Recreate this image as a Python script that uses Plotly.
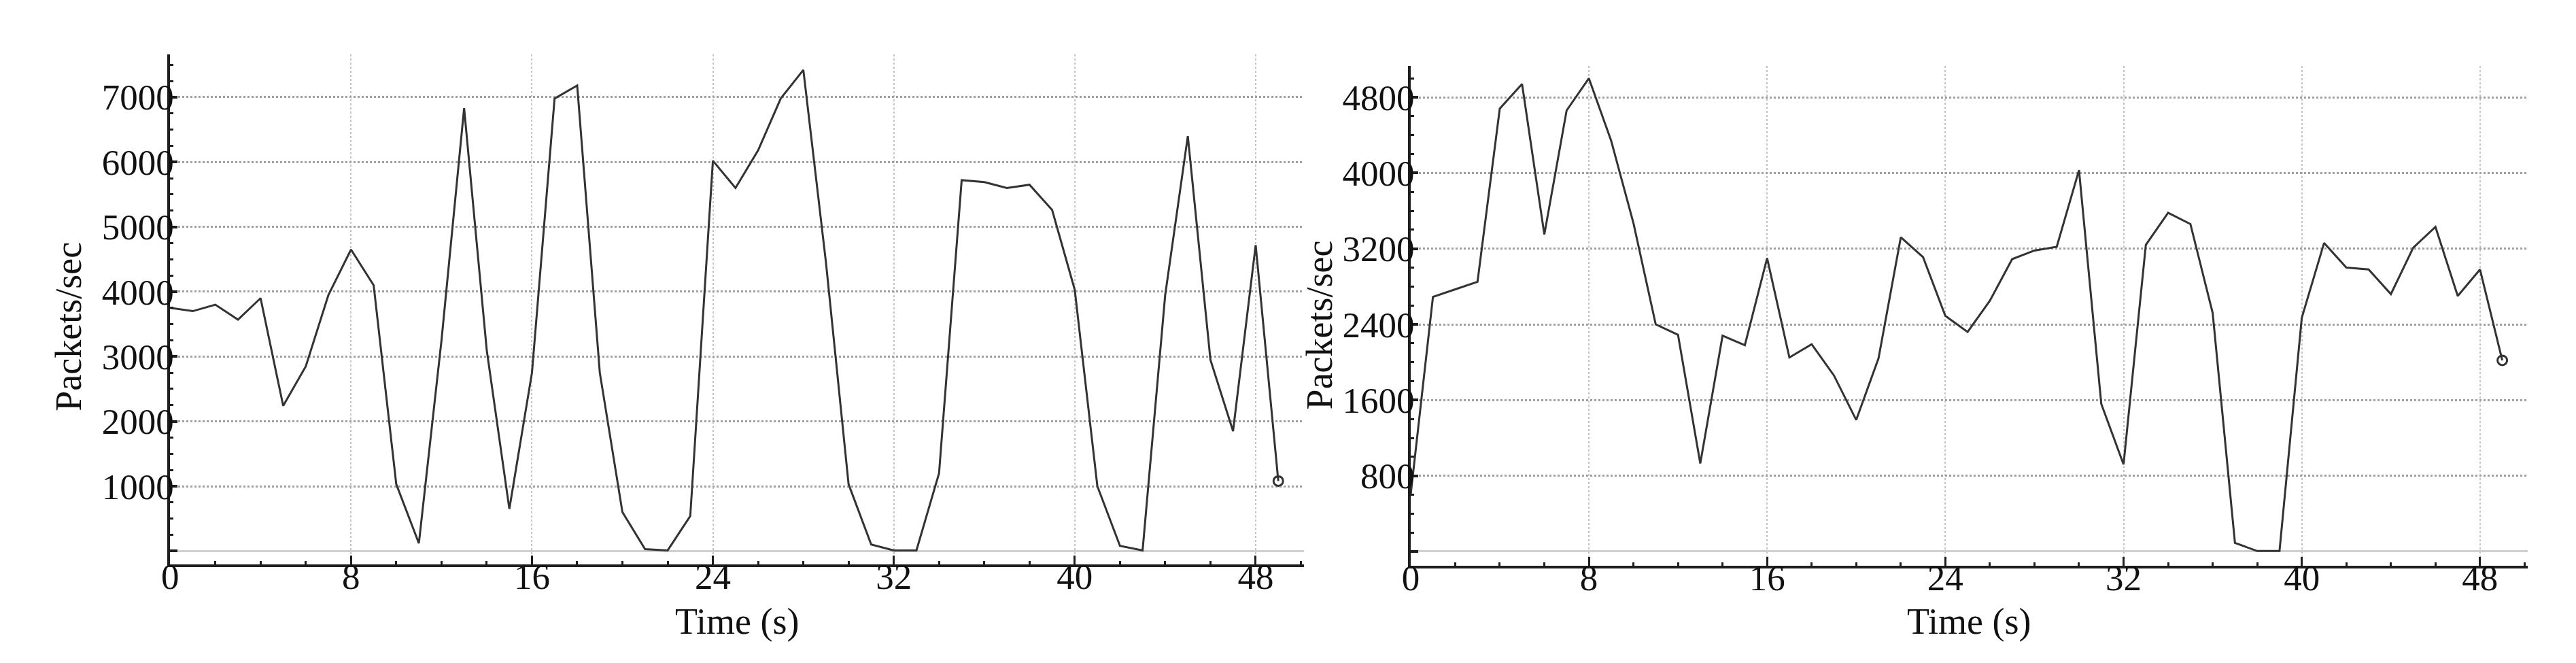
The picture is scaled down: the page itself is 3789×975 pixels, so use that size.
import plotly.graph_objects as go

# ---- data ----
time_s = list(range(50))

left_pps = [3750, 3700, 3800, 3570, 3900, 2240, 2850, 3950, 4650, 4100,
            1030, 120, 3250, 6830, 3100, 650, 2750, 6980, 7180, 2750,
            600, 30, 10, 540, 6020, 5600, 6180, 6980, 7420, 4450,
            1030, 100, 10, 10, 1200, 5720, 5690, 5600, 5650, 5260,
            4030, 1000, 80, 10, 3950, 6400, 2950, 1850, 4720, 1080]

right_pps = [600, 2690, 2770, 2850, 4680, 4940, 3350, 4660, 5000, 4340,
             3470, 2400, 2290, 930, 2280, 2180, 3100, 2050, 2190, 1860,
             1390, 2040, 3320, 3110, 2490, 2320, 2650, 3090, 3180, 3220,
             4030, 1560, 920, 3240, 3580, 3460, 2520, 90, 5, 5,
             2470, 3260, 3000, 2980, 2720, 3210, 3430, 2700, 2980, 2020]

x_ticks = [0, 8, 16, 24, 32, 40, 48]
left_yticks = [0, 1000, 2000, 3000, 4000, 5000, 6000, 7000]
left_ylabels = ["", "1000", "2000", "3000", "4000", "5000", "6000", "7000"]
right_yticks = [0, 800, 1600, 2400, 3200, 4000, 4800]
right_ylabels = ["", "800", "1600", "2400", "3200", "4000", "4800"]

x_title = "Time (s)"
y_title = "Packets/sec"

# ---- style ----
W, H = 3789, 975
FONT = "Liberation Serif, Times New Roman, serif"
AX = "#1e1e1e"
LINE = "#333333"
TICK_SIZE = 53
TITLE_SIZE = 54

fig = go.Figure()

for xa, ya, vals in (("x", "y", left_pps), ("x2", "y2", right_pps)):
    fig.add_trace(go.Scatter(x=time_s, y=vals, mode="lines",
                             line=dict(color=LINE, width=3),
                             xaxis=xa, yaxis=ya, showlegend=False, hoverinfo="skip"))
    fig.add_trace(go.Scatter(x=time_s[-1:], y=vals[-1:], mode="markers",
                             marker=dict(symbol="circle-open", size=14, color=LINE,
                                         line=dict(width=3, color=LINE)),
                             xaxis=xa, yaxis=ya, showlegend=False, hoverinfo="skip"))


def xaxis_cfg(dom):
    return dict(domain=dom, range=[0, 50.15], tickmode="array", tickvals=x_ticks,
                ticks="inside", ticklen=13, tickwidth=3, tickcolor=AX,
                showline=True, linecolor=AX, linewidth=3.5,
                showgrid=True, gridcolor="#c4c4c4", griddash="dot", gridwidth=1.5,
                zeroline=False,
                minor=dict(tickmode="linear", tick0=0, dtick=2, ticks="inside",
                           ticklen=5, tickwidth=2.5, tickcolor=AX, showgrid=False),
                tickfont=dict(family=FONT, size=TICK_SIZE, color="#111"),
                ticklabelstandoff=-31, fixedrange=True)


def yaxis_cfg(dom, rng, tv, tt, minor_dt, anchor):
    return dict(domain=dom, range=rng, tickmode="array", tickvals=tv, ticktext=tt,
                ticks="inside", ticklen=11, tickwidth=4, tickcolor=AX,
                showline=True, linecolor=AX, linewidth=3.5,
                showgrid=True, gridcolor="#a0a0a0", griddash="dot", gridwidth=2.5,
                zeroline=True, zerolinecolor="#cfcfcf", zerolinewidth=3,
                minor=dict(tickmode="linear", tick0=0, dtick=minor_dt, ticks="inside",
                           ticklen=5, tickwidth=2.5, tickcolor=AX, showgrid=False),
                tickfont=dict(family=FONT, size=TICK_SIZE, color="#111"),
                ticklabelstandoff=-20, anchor=anchor, fixedrange=True)


L0, L1 = 230 / W, 1904 / W
R0, R1 = 2061 / W, 3710 / W

fig.update_layout(
    width=W, height=H,
    margin=dict(l=0, r=0, t=0, b=0),
    paper_bgcolor="white", plot_bgcolor="white",
    font=dict(family=FONT, color="#111"),
    xaxis=dict(**xaxis_cfg([L0, L1]), anchor="y"),
    yaxis=yaxis_cfg([1 - 822 / H, 1 - 72 / H], [-206, 7660], left_yticks, left_ylabels, 250, "x"),
    xaxis2=dict(**xaxis_cfg([R0, R1]), anchor="y2"),
    yaxis2=yaxis_cfg([1 - 824 / H, 1 - 88.7 / H], [-151, 5133], right_yticks, right_ylabels, 200, "x2"),
)

ann = []
for cx in ((L0 + L1) / 2, (R0 + R1) / 2):
    ann.append(dict(text=x_title, x=cx, y=1 - 906 / H, xref="paper", yref="paper",
                    xanchor="center", yanchor="middle", showarrow=False,
                    font=dict(family=FONT, size=TITLE_SIZE, color="#111")))
for cx, cy in ((80 / W, 1 - 472 / H), (1927 / W, 1 - 470 / H)):
    ann.append(dict(text=y_title, x=cx, y=cy, xref="paper", yref="paper",
                    xanchor="center", yanchor="middle", showarrow=False, textangle=-90,
                    font=dict(family=FONT, size=TITLE_SIZE, color="#111")))
fig.update_layout(annotations=ann)

fig.write_html("out.html")
